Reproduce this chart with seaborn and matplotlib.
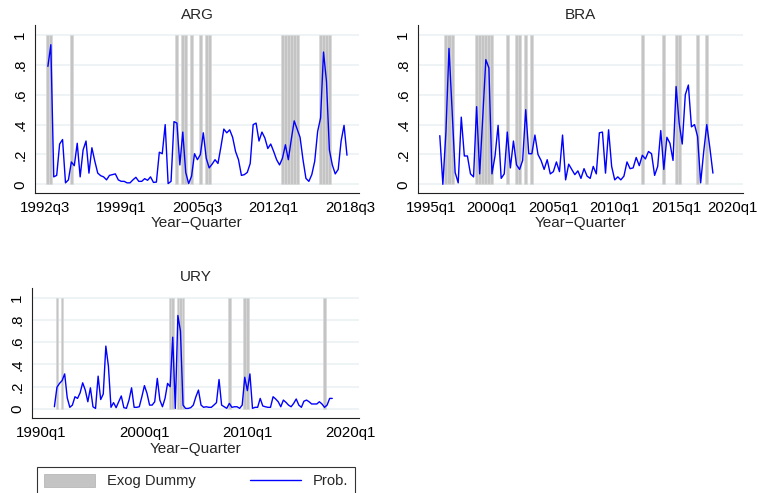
import numpy as np
import pandas as pd
import matplotlib
matplotlib.use("Agg")
import matplotlib.pyplot as plt
import matplotlib.transforms as mtrans
import seaborn as sns
from matplotlib.patches import Patch
from matplotlib.lines import Line2D

sns.set_style("white")
plt.rcParams['font.family'] = ['Liberation Sans', 'DejaVu Sans']

# ---------------- data ----------------
arg_start = "1992q4"
arg_prob = [0.79, 0.935, 0.05, 0.06, 0.27, 0.30, 0.01, 0.03, 0.15, 0.125,
            0.275, 0.05, 0.23, 0.29, 0.075, 0.245, 0.155, 0.075, 0.058, 0.05,
            0.03, 0.06, 0.065, 0.07, 0.03, 0.02, 0.02, 0.01, 0.01, 0.03,
            0.047, 0.02, 0.02, 0.038, 0.027, 0.05, 0.013, 0.015, 0.215, 0.205,
            0.40, 0.005, 0.02, 0.42, 0.41, 0.13, 0.35, 0.08, 0.005, 0.055,
            0.205, 0.165, 0.2, 0.345, 0.175, 0.11, 0.135, 0.165, 0.14, 0.25,
            0.37, 0.345, 0.365, 0.315, 0.22, 0.165, 0.06, 0.065, 0.08, 0.14,
            0.40, 0.41, 0.29, 0.35, 0.31, 0.24, 0.27, 0.22, 0.165, 0.13,
            0.175, 0.265, 0.165, 0.30, 0.425, 0.37, 0.315, 0.165, 0.04, 0.02,
            0.065, 0.155, 0.355, 0.445, 0.886, 0.69, 0.23, 0.13, 0.07, 0.10,
            0.29, 0.395, 0.195]
arg_dummy = ["1992q4", "1993q1", "1994q4", "2003q4", "2004q2", "2004q3",
             "2005q1", "2005q4", "2006q2", "2006q3",
             "2012q4", "2013q1", "2013q2", "2013q3", "2013q4", "2014q1",
             "2016q1", "2016q2", "2016q3", "2016q4"]
arg_ticks = ["1992q3", "1999q1", "2005q3", "2012q1", "2018q3"]

bra_start = "1995q4"
bra_prob = [0.326, 0.0, 0.35, 0.91, 0.5, 0.08, 0.01, 0.45, 0.19, 0.19,
            0.07, 0.05, 0.52, 0.07, 0.45, 0.835, 0.78, 0.07, 0.19, 0.395,
            0.04, 0.07, 0.35, 0.11, 0.29, 0.13, 0.10, 0.16, 0.5, 0.205,
            0.205, 0.33, 0.2, 0.16, 0.10, 0.165, 0.07, 0.085, 0.15, 0.085,
            0.33, 0.03, 0.135, 0.1, 0.065, 0.09, 0.04, 0.105, 0.055, 0.04,
            0.12, 0.07, 0.345, 0.35, 0.075, 0.365, 0.12, 0.03, 0.05, 0.03,
            0.055, 0.15, 0.105, 0.11, 0.18, 0.125, 0.195, 0.17, 0.22, 0.205,
            0.06, 0.12, 0.36, 0.10, 0.315, 0.275, 0.16, 0.655, 0.41, 0.27,
            0.60, 0.665, 0.385, 0.40, 0.32, 0.01, 0.22, 0.40, 0.245, 0.075]
bra_dummy = ["1996q2", "1996q3", "1996q4",
             "1998q4", "1999q1", "1999q2", "1999q3", "1999q4", "2000q1",
             "2001q2", "2002q1", "2002q2", "2002q4", "2003q2",
             "2012q2", "2014q1", "2015q1", "2015q2", "2016q4", "2017q3"]
bra_ticks = ["1995q1", "2000q1", "2005q1", "2010q1", "2015q1", "2020q1"]

ury_start = "1991q2"
ury_prob = [0.02, 0.195, 0.23, 0.255, 0.315, 0.10, 0.015, 0.035, 0.11, 0.095,
            0.145, 0.235, 0.17, 0.065, 0.19, 0.02, 0.005, 0.295, 0.085, 0.135,
            0.565, 0.385, 0.015, 0.057, 0.012, 0.065, 0.117, 0.012, 0.006, 0.08,
            0.19, 0.015, 0.015, 0.02, 0.11, 0.21, 0.14, 0.035, 0.035, 0.065,
            0.275, 0.08, 0.02, 0.095, 0.23, 0.2, 0.645, 0.005, 0.84, 0.70,
            0.035, 0.005, 0.005, 0.012, 0.035, 0.11, 0.17, 0.035, 0.015, 0.02,
            0.015, 0.015, 0.035, 0.057, 0.265, 0.035, 0.02, 0.006, 0.05, 0.015,
            0.02, 0.02, 0.006, 0.035, 0.285, 0.165, 0.315, 0.006, 0.015, 0.015,
            0.095, 0.027, 0.02, 0.015, 0.015, 0.11, 0.09, 0.065, 0.02, 0.08,
            0.06, 0.035, 0.02, 0.05, 0.09, 0.035, 0.015, 0.07, 0.08, 0.065,
            0.045, 0.045, 0.045, 0.065, 0.045, 0.015, 0.035, 0.095, 0.095]
ury_dummy = ["1991q3", "1992q1", "2002q3", "2002q4", "2003q2", "2003q3",
             "2003q4", "2008q2", "2009q4", "2010q1", "2017q3"]
ury_ticks = ["1990q1", "2000q1", "2010q1", "2020q1"]

ytick_vals = [0, 0.2, 0.4, 0.6, 0.8, 1.0]
ytick_labels = ["0", ".2", ".4", ".6", ".8", "1"]


def qnum(s):
    y, q = s.split("q")
    return (int(y) - 1960) * 4 + int(q) - 1


W, H = 758, 493
fig = plt.figure(figsize=(W / 100, H / 100), dpi=100)

BLUE = "#0000ff"
BAR = "#c4c4c4"
BAREDGE = "#d9d9d9"
GRID = "#e9f1f2"


def add_px_axes(l, t, r, b):
    return fig.add_axes([l / W, 1 - b / H, (r - l) / W, (b - t) / H])


def panel(box, title, title_y, start, prob, dummy, ticks, xlim, ylim, xlabel_y):
    ax = add_px_axes(*box)
    x0 = qnum(start)
    df = pd.DataFrame({"t": np.arange(x0, x0 + len(prob)), "p": prob})
    bx = [qnum(s) for s in dummy]
    ax.bar(bx, [1.0] * len(bx), width=1.0, bottom=0, color=BAR,
           edgecolor=BAREDGE, linewidth=0.5, zorder=2)
    sns.lineplot(data=df, x="t", y="p", ax=ax, color=BLUE, linewidth=1.0,
                 zorder=3)
    ax.set_xlim(*xlim)
    ax.set_ylim(*ylim)
    ax.set_yticks(ytick_vals)
    ax.set_yticklabels(ytick_labels, rotation=90, va="center")
    tv = [qnum(s) for s in ticks]
    ax.set_xticks(tv)
    ax.set_xticklabels(ticks)
    ax.yaxis.grid(True, color=GRID, linewidth=1.1, zorder=0)
    ax.xaxis.grid(False)
    ax.set_axisbelow(True)
    for s in ["top", "right"]:
        ax.spines[s].set_visible(False)
    for s in ["left", "bottom"]:
        ax.spines[s].set_color("#222222")
        ax.spines[s].set_linewidth(0.8)
    ax.tick_params(axis="both", direction="out", length=4.5, width=0.8,
                   color="#222222", labelsize=10.8, labelcolor="black")
    ax.tick_params(axis="x", pad=1.5)
    ax.tick_params(axis="y", pad=1.0)
    ax.set_ylabel("")
    ax.set_xlabel("Year\u2212Quarter", fontsize=11, va="center")
    bh = box[3] - box[1]
    ax.xaxis.set_label_coords(0.5, -(xlabel_y - box[3]) / bh)
    fig.text(((box[0] + box[2]) / 2) / W, 1 - title_y / H, title,
             ha="center", va="center", fontsize=11)
    return ax


panel((35, 25, 359, 193), "ARG", 15, arg_start, arg_prob, arg_dummy,
      arg_ticks, (126.6, 237.1), (-0.058, 1.067), 223)
ax_bra = panel((418, 25, 743, 193), "BRA", 15, bra_start, bra_prob, bra_dummy,
               bra_ticks, (135.9, 241.8), (-0.058, 1.067), 223)
panel((32, 288, 359, 418), "URY", 277, ury_start, ury_prob, ury_dummy,
      ury_ticks, (116.3, 243.4), (-0.081, 1.087), 449)

# keep the last BRA tick label inside the figure
last_lbl = ax_bra.get_xticklabels()[-1]
last_lbl.set_transform(last_lbl.get_transform() +
                       mtrans.ScaledTranslation(-5 / 100, 0, fig.dpi_scale_trans))

handles = [Patch(facecolor=BAR, edgecolor="#b8b8b8", linewidth=0.6),
           Line2D([], [], color=BLUE, linewidth=1.0)]
leg = fig.legend(handles, ["Exog Dummy", "Prob."], ncol=2, mode="expand",
                 loc="upper left",
                 bbox_to_anchor=(37 / W, 1 - 467 / H - 0.05, 318 / W, 0.05),
                 borderaxespad=0, frameon=True, fancybox=False,
                 edgecolor="black", fontsize=10.6, handlelength=3.5,
                 handleheight=1.05, handletextpad=0.8, borderpad=0.45)
leg.get_frame().set_linewidth(0.8)

fig.savefig("out.png", dpi=100)
